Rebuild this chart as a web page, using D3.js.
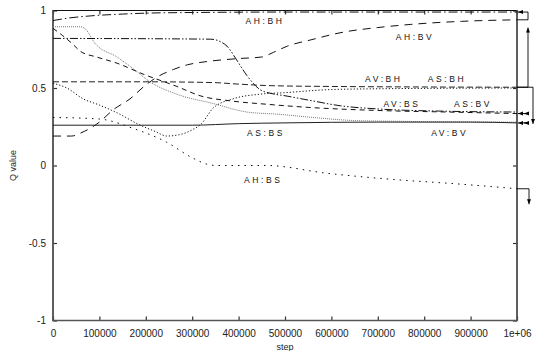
<!DOCTYPE html>
<html>
<head>
<meta charset="utf-8">
<script src="https://cdn.jsdelivr.net/npm/d3@7"></script>
<style>
  body { margin: 0; background: #fff; }
  text { font-family: "Liberation Sans", Arial, sans-serif; }
</style>
</head>
<body>
<div id="chart"></div>
<script>
const width = 536;
const height = 351;
const margin = { top: 10.5, right: 19, bottom: 30.5, left: 53 };

// [step, Q value] pairs
const AH_BH = [[0, 0.935], [30000, 0.95], [80000, 0.965], [150000, 0.977], [200000, 0.983], [300000, 0.987], [500000, 0.99], [1000000, 0.99]];
const AH_BV = [[0, 0.19], [40000, 0.19], [60000, 0.21], [100000, 0.28], [130000, 0.36], [166000, 0.43], [200000, 0.52], [224000, 0.57], [260000, 0.62], [290000, 0.65], [330000, 0.67], [400000, 0.69], [450000, 0.70], [475000, 0.73], [505000, 0.77], [555000, 0.81], [625000, 0.86], [700000, 0.89], [770000, 0.91], [880000, 0.93], [1000000, 0.94]];
const AS_BS = [[0, 0.895], [60000, 0.895], [70000, 0.88], [90000, 0.79], [138000, 0.70], [175000, 0.62], [209000, 0.54], [267000, 0.46], [345000, 0.40], [418000, 0.345], [489000, 0.33], [560000, 0.31], [650000, 0.29], [750000, 0.285], [1000000, 0.28]];
const AV_BS = [[0, 0.885], [20000, 0.84], [40000, 0.79], [60000, 0.735], [94000, 0.70], [138000, 0.66], [194000, 0.59], [267000, 0.51], [317000, 0.45], [388000, 0.415], [461000, 0.395], [550000, 0.375], [700000, 0.355], [850000, 0.345], [1000000, 0.335]];
const AS_BV = [[0, 0.82], [340000, 0.815], [360000, 0.80], [375000, 0.77], [396000, 0.68], [418000, 0.58], [446000, 0.49], [470000, 0.465], [500000, 0.45], [554000, 0.42], [620000, 0.385], [700000, 0.365], [850000, 0.35], [1000000, 0.345]];
const AV_BH = [[0, 0.54], [200000, 0.54], [345000, 0.535], [400000, 0.525], [470000, 0.515], [600000, 0.51], [1000000, 0.505]];
const AS_BH = [[0, 0.53], [30000, 0.50], [65000, 0.43], [100000, 0.39], [138000, 0.34], [188000, 0.26], [220000, 0.22], [245000, 0.19], [274000, 0.20], [300000, 0.23], [320000, 0.27], [345000, 0.37], [388000, 0.43], [446000, 0.46], [500000, 0.47], [600000, 0.49], [700000, 0.495], [1000000, 0.5]];
const AH_BS = [[0, 0.31], [100000, 0.30], [172000, 0.24], [245000, 0.15], [300000, 0.05], [330000, 0.01], [353000, 0.0], [460000, 0.0], [590000, -0.05], [733000, -0.09], [877000, -0.12], [1000000, -0.15]];
const AV_BV = [[0, 0.26], [300000, 0.26], [400000, 0.27], [500000, 0.275], [700000, 0.28], [900000, 0.28], [1000000, 0.275]];

const xTicks = [0, 100000, 200000, 300000, 400000, 500000, 600000, 700000, 800000, 900000, 1000000];
const yTicks = [-1, -0.5, 0, 0.5, 1];

// curve labels: text, step, value (baseline)
const labels = [
  ['AH:BH', 457000, 0.913],
  ['AH:BV', 780000, 0.81],
  ['AV:BH', 713000, 0.54],
  ['AS:BH', 849000, 0.54],
  ['AV:BS', 752000, 0.377],
  ['AS:BV', 905000, 0.377],
  ['AS:BS', 459000, 0.19],
  ['AV:BV', 855000, 0.19],
  ['AH:BS', 453000, -0.113]
];

const series = [
  { data: AH_BH, dash: '9,3,1.5,3', color: '#111' },
  { data: AH_BV, dash: '8,6', color: '#111' },
  { data: AS_BS, dash: '1,1', color: '#777' },
  { data: AV_BS, dash: '5,4', color: '#111' },
  { data: AS_BV, dash: '8,2,1.5,2,1.5,2', color: '#111' },
  { data: AV_BH, dash: '6,3', color: '#222' },
  { data: AS_BH, dash: '1.2,2', color: '#111' },
  { data: AH_BS, dash: '1.5,5', color: '#111' },
  { data: AV_BV, dash: null, color: '#222' }
];

const svg = d3.select('#chart').append('svg')
  .attr('width', width)
  .attr('height', height);

const x = d3.scaleLinear().domain([0, 1000000]).range([margin.left, width - margin.right]);
const y = d3.scaleLinear().domain([-1, 1]).range([height - margin.bottom, margin.top]);

// Arrowhead marker
svg.append('defs').append('marker')
  .attr('id', 'arrow')
  .attr('viewBox', '0 -5 10 10')
  .attr('refX', 10)
  .attr('refY', 0)
  .attr('markerUnits', 'userSpaceOnUse')
  .attr('markerWidth', 5)
  .attr('markerHeight', 5)
  .attr('orient', 'auto')
  .append('path')
  .attr('d', 'M0,-4 L10,0 L0,4 Z')
  .attr('fill', '#000');

// Axes with inward ticks
const fmtX = (d) => (d === 1000000 ? '1e+06' : String(d));
const fmtY = (d) => String(d);

const gx = svg.append('g')
  .attr('transform', `translate(0,${y(-1)})`)
  .call(d3.axisBottom(x).tickValues(xTicks).tickFormat(fmtX).tickSizeInner(-4).tickSizeOuter(0).tickPadding(9));
const gy = svg.append('g')
  .attr('transform', `translate(${x(0)},0)`)
  .call(d3.axisLeft(y).tickValues(yTicks).tickFormat(fmtY).tickSizeInner(-4).tickSizeOuter(0).tickPadding(7));
const gxt = svg.append('g')
  .attr('transform', `translate(0,${y(1)})`)
  .call(d3.axisTop(x).tickValues(xTicks).tickFormat('').tickSizeInner(-4).tickSizeOuter(0));
const gyr = svg.append('g')
  .attr('transform', `translate(${x(1000000)},0)`)
  .call(d3.axisRight(y).tickValues(yTicks).tickFormat('').tickSizeInner(-4).tickSizeOuter(0));

[gx, gy, gxt, gyr].forEach((g) => {
  g.select('.domain').remove();
  g.selectAll('line').attr('stroke', '#333').attr('stroke-width', 1.2);
  g.selectAll('text').attr('font-size', 10).attr('fill', '#222')
    .style('font-family', '"Liberation Sans", Arial, sans-serif');
});

// Frame
svg.append('rect')
  .attr('x', x(0))
  .attr('y', y(1))
  .attr('width', x(1000000) - x(0))
  .attr('height', y(-1) - y(1))
  .attr('fill', 'none')
  .attr('stroke', '#111')
  .attr('stroke-width', 1);
svg.append('path')
  .attr('d', `M${x(0)},${y(1)} V${y(-1)} H${x(1000000)} V${y(1)}`)
  .attr('fill', 'none')
  .attr('stroke', '#555')
  .attr('stroke-width', 1.6);

// Curves
const line = d3.line()
  .x((d) => x(d[0]))
  .y((d) => y(d[1]))
  .curve(d3.curveMonotoneX);

svg.append('g')
  .selectAll('path')
  .data(series)
  .enter()
  .append('path')
  .attr('d', (d) => line(d.data))
  .attr('fill', 'none')
  .attr('stroke', (d) => d.color)
  .attr('stroke-width', 1)
  .attr('stroke-dasharray', (d) => d.dash);

// Curve labels
svg.append('g')
  .selectAll('text')
  .data(labels)
  .enter()
  .append('text')
  .attr('x', (d) => x(d[1]))
  .attr('y', (d) => y(d[2]))
  .attr('text-anchor', 'middle')
  .attr('font-size', 8.5)
  .attr('letter-spacing', '2.6px')
  .attr('fill', '#111')
  .text((d) => d[0]);

// Annotation arrows on the right edge
const xr = x(1000000);
const end = (s) => y(s[s.length - 1][1]);
const arrows = [
  `M${xr},${end(AH_BV)} H${xr + 11} V${end(AH_BH)} H${xr + 1}`,
  `M${xr},${end(AV_BH)} H${xr + 11} V${y(0.89)}`,
  `M${xr},${end(AV_BH)} H${xr + 16} V${end(AV_BV) + 1}`,
  `M${xr + 11},${end(AV_BS)} H${xr + 1}`,
  `M${xr + 11},${end(AV_BS)} H${xr + 7}`,
  `M${xr + 11},${end(AV_BV)} H${xr + 1}`,
  `M${xr + 11},${end(AV_BV)} H${xr + 7}`,
  `M${xr},${end(AH_BS)} H${xr + 12} V${y(-0.25)}`
];
svg.append('g')
  .selectAll('path')
  .data(arrows)
  .enter()
  .append('path')
  .attr('d', (d) => d)
  .attr('fill', 'none')
  .attr('stroke', '#000')
  .attr('stroke-width', 0.9)
  .attr('marker-end', 'url(#arrow)');

// Axis titles
svg.append('text')
  .attr('x', x(500000))
  .attr('y', 350)
  .attr('text-anchor', 'middle')
  .attr('font-size', 9)
  .attr('fill', '#222')
  .text('step');

svg.append('text')
  .attr('transform', `translate(16,${y(0)}) rotate(-90)`)
  .attr('text-anchor', 'middle')
  .attr('font-size', 9)
  .attr('fill', '#222')
  .text('Q value');
</script>
</body>
</html>
